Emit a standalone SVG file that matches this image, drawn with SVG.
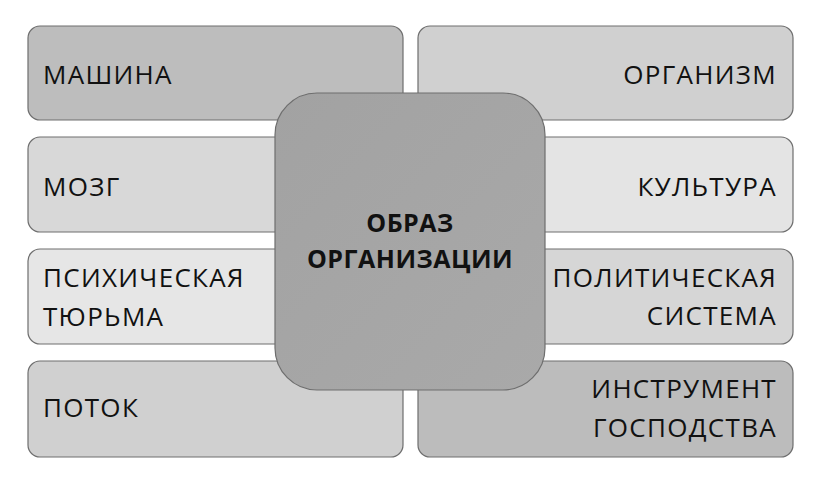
<svg xmlns="http://www.w3.org/2000/svg" width="816" height="482" viewBox="0 0 816 482">
<defs>
<style>
.box{stroke:#6e6e6e;stroke-width:1.2}
.t{font-family:"Open Sans","Noto Sans","DejaVu Sans",sans-serif;font-size:26px;letter-spacing:1.3px;fill:#111}
.r{text-anchor:end}
.c{font-family:"Open Sans","Noto Sans","DejaVu Sans",sans-serif;font-size:25px;font-weight:bold;letter-spacing:0.5px;fill:#111;text-anchor:middle}
</style>
<linearGradient id="gc" x1="0" y1="0" x2="1" y2="1">
<stop offset="0" stop-color="#a2a2a2"/>
<stop offset="1" stop-color="#a9a9a9"/>
</linearGradient>
</defs>
<rect width="816" height="482" fill="#ffffff"/>
<g id="n-mashina"><rect class="box" x="28" y="26" width="375" height="94" rx="12" fill="#bdbdbd"/><text class="t" x="43" y="84">МАШИНА</text></g>
<g id="n-mozg"><rect class="box" x="28" y="137" width="375" height="95" rx="12" fill="#d8d8d8"/><text class="t" x="43" y="196">МОЗГ</text></g>
<g id="n-psych"><rect class="box" x="28" y="249" width="375" height="95" rx="12" fill="#e6e6e6"/><text class="t" x="43" y="287">ПСИХИЧЕСКАЯ</text><text class="t" x="43" y="326">ТЮРЬМА</text></g>
<g id="n-potok"><rect class="box" x="28" y="361" width="375" height="96" rx="12" fill="#d0d0d0"/><text class="t" x="43" y="417">ПОТОК</text></g>
<g id="n-organizm"><rect class="box" x="418" y="26" width="375" height="94" rx="12" fill="#d0d0d0"/><text class="t r" x="777" y="84">ОРГАНИЗМ</text></g>
<g id="n-kultura"><rect class="box" x="418" y="137" width="375" height="95" rx="12" fill="#e4e4e4"/><text class="t r" x="777" y="196">КУЛЬТУРА</text></g>
<g id="n-polit"><rect class="box" x="418" y="249" width="375" height="95" rx="12" fill="#d6d6d6"/><text class="t r" x="777" y="287">ПОЛИТИЧЕСКАЯ</text><text class="t r" x="777" y="325">СИСТЕМА</text></g>
<g id="n-instr"><rect class="box" x="418" y="361" width="375" height="96" rx="12" fill="#bcbcbc"/><text class="t r" x="777" y="398">ИНСТРУМЕНТ</text><text class="t r" x="777" y="437">ГОСПОДСТВА</text></g>
<g id="n-center"><rect class="box" x="275" y="93" width="270" height="297" rx="42" fill="url(#gc)" stroke="#555"/><text class="c" x="410" y="232">ОБРАЗ</text><text class="c" x="410" y="268">ОРГАНИЗАЦИИ</text></g>
<g id="connectors"></g>
</svg>
